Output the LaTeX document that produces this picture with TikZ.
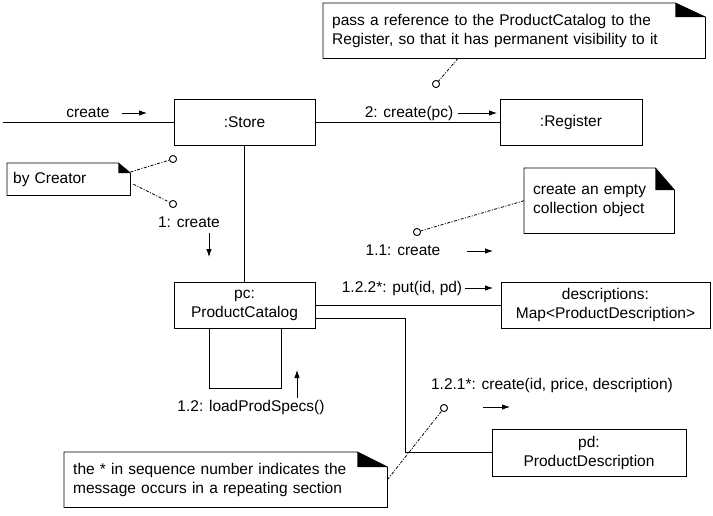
\documentclass[tikz,border=0pt]{standalone}
\usepackage{fontspec}
\setmainfont{Liberation Sans}
\usetikzlibrary{arrows.meta, positioning}
\tikzset{
  obj/.style={draw, line width=0.8pt, align=center, inner sep=0pt},
  msg/.style={-{Latex[length=8pt,width=5.5pt]}, line width=0.8pt},
  link/.style={line width=0.8pt},
  anchorline/.style={line width=0.8pt, dash pattern=on 3pt off 1.5pt on 1pt off 1.5pt},
  notebox/.style={align=left, anchor=north west, inner xsep=9pt, inner ysep=0pt},
  pin/.style={circle, draw, line width=0.8pt, fill=white, inner sep=0pt, minimum size=7pt},
  lbl/.style={inner sep=0pt}
}
\newcommand{\dogear}[3]{%
  \draw[line width=0.8pt] (#1.north west) -- ([xshift=-#2]#1.north east) -- ([yshift=-#3]#1.north east) -- (#1.south east) -- (#1.south west) -- cycle;
  \fill ([xshift=-#2]#1.north east) -- ([xshift=-#2,yshift=-#3]#1.north east) -- ([yshift=-#3]#1.north east) -- cycle;}

\begin{document}
\begin{tikzpicture}[x=1pt, y=-1pt, font=\fontsize{15.5}{19}\selectfont]
\useasboundingbox (0,0) rectangle (713,515);

\node[obj, minimum width=141pt, minimum height=46pt] (store) at (244.5,122) {:Store};
\node[obj, minimum width=142pt, minimum height=46pt] (reg) at (571,122) {:Register};
\node[obj, minimum width=141pt, minimum height=46pt] (pc) at (244.5,305) {pc:\\ProductCatalog};
\node[obj, minimum width=209pt, minimum height=46pt] (descr) at (605.5,305) {descriptions:\\Map<ProductDescription>};
\node[obj, minimum width=194pt, minimum height=47pt] (pd) at (589,452.5) {pd:\\ProductDescription};

\node[notebox, text width=364pt, minimum height=55pt] (n1) at (323,3) {pass a reference to the ProductCatalog to the\\Register, so that it has permanent visibility to it};
\node[notebox, text width=111pt, minimum height=32pt, inner xsep=6pt] (byc) at (7,163) {by Creator};
\node[notebox, text width=132pt, minimum height=65pt] (n2) at (524,168) {create an empty\\collection object};
\node[notebox, text width=305pt, minimum height=55pt] (n3) at (64,452) {the * in sequence number indicates the\\message occurs in a repeating section};
\dogear{n1}{30pt}{14pt}
\dogear{byc}{12pt}{10pt}
\dogear{n2}{19pt}{22pt}
\dogear{n3}{30pt}{15pt}

\coordinate (entry) at (3,122);
\draw[link] (entry) -- (store.west);
\draw[link] (store.east) -- (store.east -| reg.west);
\draw[link] (store) -- (pc);
\draw[link] ([xshift=-35.5pt]pc.south) -- ++(0,60) -| ([xshift=36.5pt]pc.south);
\draw[link] (pc.east) -- (pc.east -| descr.west);
\draw[link] ([yshift=-13pt]pc.east) -- ++(90,0) |- (pd.west);

\node[pin] (p1) at (436,84) {};
\node[pin] (p2) at (173,159) {};
\node[pin] (p3) at (173,204) {};
\node[pin] (p4) at (417,232) {};
\node[pin] (p5) at (444,408) {};
\draw[anchorline] ([xshift=135pt]n1.south west) -- (p1);
\draw[anchorline] ([yshift=-9pt]byc.north east) -- (p2);
\draw[anchorline] ([xshift=3pt,yshift=-5pt]byc.east) -- (p3);
\draw[anchorline] (n2.west) -- (p4);
\draw[anchorline] (n3.east) -- (p5);
\node[pin] at (p1) {};
\node[pin] at (p2) {};
\node[pin] at (p3) {};
\node[pin] at (p4) {};
\node[pin] at (p5) {};

\node[lbl] (lcreate) at (88,113) {create};
\node[lbl] (l2) at (409,113) {2: create(pc)};
\node[lbl] (l1) at (189,222) {1: create};
\node[lbl] (l11) at (403,250) {1.1: create};
\node[lbl] (l122) at (402,288) {1.2.2*: put(id, pd)};
\node[lbl] (l12) at (251,407) {1.2: loadProdSpecs()};
\node[lbl] (l121) at (552,385) {1.2.1*: create(id, price, description)};

\path (122,113) coordinate (m0s) (147,113) coordinate (m0e)
      (458,113) coordinate (m2s) (497,113) coordinate (m2e)
      (209,233) coordinate (m1s) (209,257) coordinate (m1e)
      (467,251) coordinate (m11s) (493,251) coordinate (m11e)
      (465,288) coordinate (m122s) (493,288) coordinate (m122e)
      (297,398) coordinate (m12s) (297,370) coordinate (m12e)
      (483,407) coordinate (m121s) (510,407) coordinate (m121e);
\draw[msg] (m0s) -- (m0e);
\draw[msg] (m2s) -- (m2e);
\draw[msg] (m1s) -- (m1e);
\draw[msg] (m11s) -- (m11e);
\draw[msg] (m122s) -- (m122e);
\draw[msg] (m12s) -- (m12e);
\draw[msg] (m121s) -- (m121e);
\end{tikzpicture}
\end{document}
